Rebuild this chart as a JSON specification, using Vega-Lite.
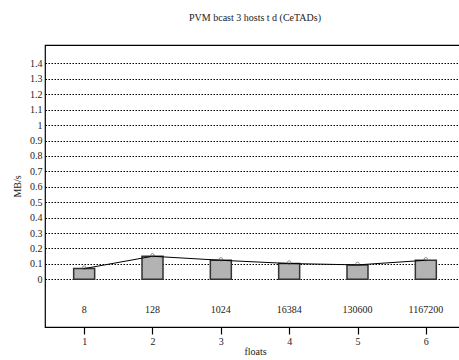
{
  "$schema": "https://vega.github.io/schema/vega-lite/v6.json",
  "autosize": "none",
  "width": 420,
  "height": 282,
  "padding": {"left": 45, "top": 45, "right": 0, "bottom": 33},
  "background": "white",
  "config": {
    "font": "Liberation Serif",
    "view": {"stroke": "black", "strokeWidth": 1.2},
    "axis": {"labelFont": "Liberation Serif", "titleFont": "Liberation Serif", "labelColor": "#222", "titleColor": "#222", "titleFontWeight": "normal", "labelFontSize": 10, "titleFontSize": 10, "labelOverlap": false, "labelFlush": false}
  },
  "title": {"text": "PVM bcast 3 hosts t d (CeTADs)", "font": "Liberation Serif", "fontSize": 10, "fontWeight": "normal", "color": "#222", "offset": 22, "anchor": "middle"},
  "data": {"values": [
    {"run": 1, "floats": "8", "rate": 0.069},
    {"run": 2, "floats": "128", "rate": 0.149},
    {"run": 3, "floats": "1024", "rate": 0.123},
    {"run": 4, "floats": "16384", "rate": 0.102},
    {"run": 5, "floats": "130600", "rate": 0.093},
    {"run": 6, "floats": "1167200", "rate": 0.123}
  ]},
  "encoding": {
    "x": {"field": "run", "type": "quantitative", "scale": {"domain": [0.5, 6.5], "nice": false, "zero": false},
      "axis": {"values": [1, 2, 3, 4, 5, 6], "format": "d", "title": "floats", "grid": false, "domain": false, "tickColor": "black", "tickSize": 7, "tickWidth": 1.2, "labelPadding": 2, "titlePadding": 0}},
    "y": {"field": "rate", "type": "quantitative", "scale": {"domain": [-0.31, 1.52], "nice": false, "zero": false},
      "axis": {"values": [0, 0.1, 0.2, 0.3, 0.4, 0.5, 0.6, 0.7, 0.8, 0.9, 1, 1.1, 1.2, 1.3, 1.4], "format": "~g", "title": "MB/s", "grid": true, "gridColor": "black", "gridDash": [1.5, 1.5], "gridWidth": 1, "gridOpacity": 1, "ticks": false, "domain": false, "labelPadding": 3, "titlePadding": 7}}
  },
  "layer": [
    {
      "mark": {"type": "bar", "size": 21, "fill": "#b3b3b3", "stroke": "#333", "strokeWidth": 1.5}
    },
    {
      "mark": {"type": "line", "color": "black", "strokeWidth": 1}
    },
    {
      "mark": {"type": "point", "shape": "circle", "filled": false, "color": "#444", "size": 12, "strokeWidth": 0.8, "yOffset": -1}
    },
    {
      "mark": {"type": "text", "fontSize": 10, "color": "#222", "font": "Liberation Serif"},
      "encoding": {"y": {"datum": -0.2}, "text": {"field": "floats"}}
    }
  ]
}
